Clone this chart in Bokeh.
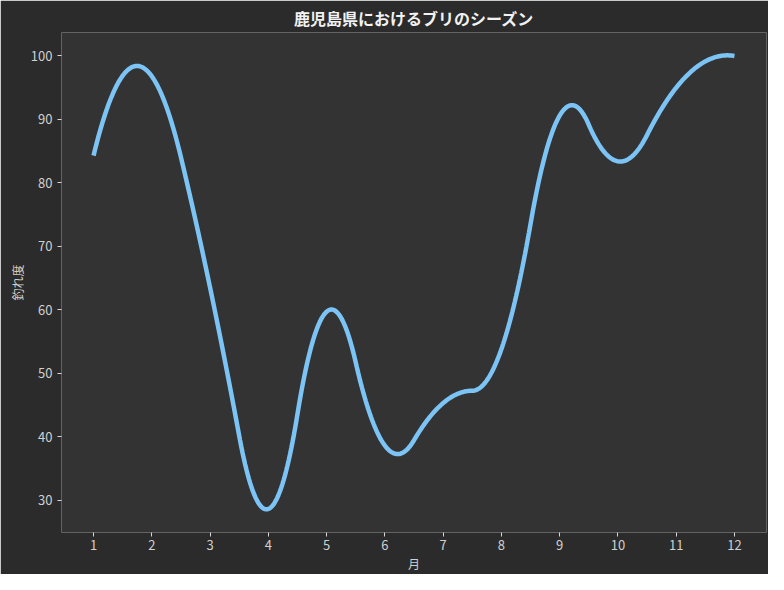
import numpy as np
from bokeh.plotting import figure
from bokeh.models import Range1d, FixedTicker
from bokeh.embed import file_html
from bokeh.resources import INLINE

months = [1, 2, 3, 4, 5, 6, 7, 8, 9, 10, 11, 12]
catch_level = [84.3, 96.8, 63.5, 28.6, 59.7, 38.6, 45.3, 53.8, 90.6, 83.4, 95.0, 100.0]
y_ticks = [30, 40, 50, 60, 70, 80, 90, 100]

TITLE = "鹿児島県におけるブリのシーズン"
XLABEL = "月"
YLABEL = "釣れ度"
FONT = "Noto Sans CJK JP"


def bspline_basis(t, k, xs):
    t = np.asarray(t, float)
    xs = np.asarray(xs, float)
    m = len(t) - 1
    B = np.zeros((len(xs), m))
    last = max(i for i in range(m) if t[i] < t[i + 1])
    for i in range(m):
        if t[i] < t[i + 1]:
            B[:, i] = (xs >= t[i]) & (xs < t[i + 1])
    B[xs >= t[-1], last] = 1.0
    for d in range(1, k + 1):
        Bn = np.zeros((len(xs), m - d))
        for i in range(m - d):
            a = t[i + d] - t[i]
            c = t[i + d + 1] - t[i + 1]
            term = np.zeros(len(xs))
            if a > 0:
                term += (xs - t[i]) / a * B[:, i]
            if c > 0:
                term += (t[i + d + 1] - xs) / c * B[:, i + 1]
            Bn[:, i] = term
        B = Bn
    return B


def quadratic_interp_spline(x, y, xs):
    # quadratic interpolating spline, knots at mid-points (like scipy make_interp_spline k=2)
    x = np.asarray(x, float)
    k = 2
    mids = (x[1:] + x[:-1]) / 2.0
    t = np.r_[(x[0],) * (k + 1), mids[1:-1], (x[-1],) * (k + 1)]
    A = bspline_basis(t, k, x)
    c = np.linalg.solve(A, np.asarray(y, float))
    return bspline_basis(t, k, xs) @ c


xs = np.linspace(months[0], months[-1], 500)
ys = quadratic_interp_spline(months, catch_level, xs)

p = figure(width=768, height=574, output_backend="svg", toolbar_location=None,
           x_range=Range1d(0.45, 12.55), y_range=Range1d(24.9, 103.7),
           min_border_left=61, min_border_right=2, min_border_top=30, min_border_bottom=40)
p.border_fill_color = "#2b2b2b"
p.background_fill_color = "#333333"
p.outline_line_color = None
p.grid.visible = False

p.title.text = TITLE
p.title.align = "center"
p.title.text_color = "#f2f2f2"
p.title.text_font = FONT
p.title.text_font_size = "16px"
p.title.text_font_style = "bold"
p.title.standoff = 6

p.line(xs, ys, line_color="#7cc4f5", line_width=4.5)

p.xaxis.ticker = FixedTicker(ticks=months)
p.yaxis.ticker = FixedTicker(ticks=y_ticks)
p.xaxis.axis_label = XLABEL
p.yaxis.axis_label = YLABEL
for ax in (p.xaxis, p.yaxis):
    ax.axis_line_color = None
    ax.major_tick_line_color = "#d8d8d8"
    ax.major_tick_in = 0
    ax.major_tick_out = 4
    ax.minor_tick_line_color = None
    ax.major_label_text_color = "#d0d0d0"
    ax.major_label_text_font = FONT
    ax.major_label_text_font_size = "13px"
    ax.axis_label_text_color = "#d0d0d0"
    ax.axis_label_text_font = FONT
    ax.axis_label_text_font_size = "12px"
    ax.axis_label_text_font_style = "normal"
p.xaxis.major_label_standoff = 3
p.xaxis.axis_label_standoff = 2
p.yaxis.major_label_standoff = 5
p.yaxis.axis_label_standoff = 2

open("out.html", "w").write(file_html(p, INLINE))
